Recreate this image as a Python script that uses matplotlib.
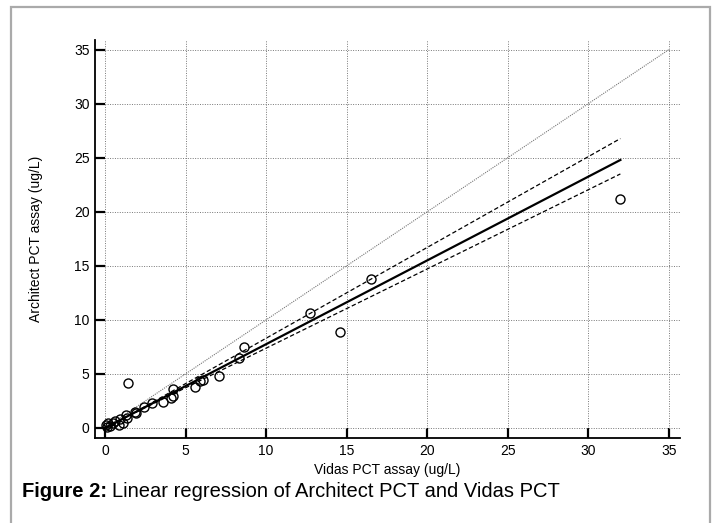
import numpy as np
import matplotlib.pyplot as plt
from matplotlib.patches import Rectangle

plt.rcParams['font.family'] = ['Liberation Sans', 'DejaVu Sans']

# Vidas PCT (x) vs Architect PCT (y), ug/L
vidas = [32.0, 16.5, 14.6, 12.7, 8.6, 8.3, 7.1, 6.1, 5.9, 5.6,
         4.2, 4.25, 4.1, 3.6, 2.9, 1.45, 2.4, 1.85, 1.95, 1.3,
         1.35, 0.95, 0.65, 0.85, 0.2, 0.1, 0.3, 0.05, 0.5, 1.1]
architect = [21.2, 13.8, 8.9, 10.6, 7.5, 6.45, 4.8, 4.45, 4.3, 3.8,
             3.65, 3.0, 2.8, 2.4, 2.3, 4.15, 1.9, 1.5, 1.4, 1.2,
             0.95, 0.85, 0.6, 0.3, 0.45, 0.1, 0.2, 0.3, 0.45, 0.5]

# regression line and 95% CI lines (intercept, slope)
reg_fit = (0.0, 0.775)
ci_upper = (-0.1, 0.84)
ci_lower = (0.05, 0.733)

ticks = [0, 5, 10, 15, 20, 25, 30, 35]

fig = plt.figure(figsize=(7.15, 5.23), dpi=100)
ax = fig.add_axes([0.1329, 0.1625, 0.951 - 0.1329, 0.9235 - 0.1625])

ax.set_xlim(-0.62, 35.7)
ax.set_ylim(-0.93, 35.9)
ax.set_xticks(ticks)
ax.set_yticks(ticks)
ax.grid(True, color='#777777', linestyle=(0, (1, 1.5)), linewidth=0.7)
ax.set_axisbelow(True)

for s in ['top', 'right']:
    ax.spines[s].set_visible(False)
for s in ['left', 'bottom']:
    ax.spines[s].set_linewidth(1.3)
ax.tick_params(direction='in', length=7, width=1.6, labelsize=10, pad=4)

# identity line
ax.plot([0, 35], [0, 35], color='#777777', linestyle=(0, (1, 1)), linewidth=0.8)

xs = np.array([0, max(vidas)])
ax.plot(xs, reg_fit[0] + reg_fit[1] * xs, color='black', linewidth=1.6)
ax.plot(xs, ci_upper[0] + ci_upper[1] * xs, color='black', linestyle=(0, (3.5, 2)), linewidth=0.9)
ax.plot(xs, ci_lower[0] + ci_lower[1] * xs, color='black', linestyle=(0, (3.5, 2)), linewidth=0.9)

ax.plot(vidas, architect, 'o', markersize=6.5, markerfacecolor='none',
        markeredgecolor='black', markeredgewidth=1.0, clip_on=False)

ax.set_xlabel('Vidas PCT assay (ug/L)', fontsize=10, labelpad=4)
ax.set_ylabel('Architect PCT assay (ug/L)', fontsize=10, labelpad=22)

# outer frame and caption
fig.patches.append(Rectangle((11 / 715, -0.05), 699 / 715, 1.05 - 7 / 523,
                             transform=fig.transFigure, fill=False,
                             edgecolor='#aaaaaa', linewidth=1.6))
t1 = fig.text(0.031, 0.061, 'Figure 2:', fontsize=14.5, fontweight='bold', va='center')
fig.canvas.draw()
bb = t1.get_window_extent()
fig.text(bb.x1 / fig.bbox.width + 0.006, 0.061,
         'Linear regression of Architect PCT and Vidas PCT', fontsize=14.5, va='center')

fig.savefig('out.png', dpi=100)
